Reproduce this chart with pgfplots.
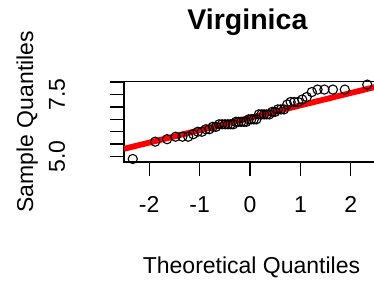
\documentclass[border=0pt]{standalone}
\usepackage{pgfplots}
\pgfplotsset{compat=1.18}
\usepackage{fontspec}
\setmainfont{Liberation Sans}
\definecolor{rred}{RGB}{255,0,0}
\begin{document}
\begin{tikzpicture}
\begin{axis}[
  x=50.4pt, y=24.8pt,
  xmin=-2.5, xmax=2.5, ymin=4.78, ymax=8.02,
  clip=false,
  axis line style={line width=1.3pt, black},
  tick align=outside, tick pos=left,
  major tick length=14pt,
  tick style={line width=1.3pt, black},
  xtick={-2,-1,0,1,2},
  xticklabels={-2,-1,0,1,2},
  ytick={5,5.5,6,6.5,7,7.5,8},
  yticklabels={5.0,,,,,7.5,},
  xticklabel style={font=\fontsize{23}{27}\selectfont, anchor=base, yshift=-36pt},
  yticklabel style={font=\fontsize{23}{27}\selectfont, xshift=-45pt, rotate=90, anchor=base},
  title={\textbf{Virginica}},
  title style={font=\fontsize{28.5}{32}\selectfont, at={(axis description cs:0.5,1)}, anchor=base, yshift=46.6pt, xshift=-2.5pt},
  xlabel={Theoretical Quantiles},
  xlabel style={font=\fontsize{23}{27}\selectfont, at={(axis description cs:0.5,0)}, anchor=base, yshift=-111pt, xshift=1.5pt},
  ylabel={Sample Quantiles},
  ylabel style={font=\fontsize{23}{27}\selectfont, at={(axis description cs:-0.361,0.5)}, anchor=base},
]
\addplot[only marks, mark=o, mark size=4.6pt, mark options={line width=1.1pt, black}] table {
q y
-2.3263 4.9
-1.8808 5.6
-1.6449 5.7
-1.4758 5.8
-1.3408 5.8
-1.2265 5.8
-1.1264 5.9
-1.0364 6.0
-0.9542 6.0
-0.8779 6.1
-0.8064 6.1
-0.7388 6.2
-0.6745 6.2
-0.6128 6.3
-0.5534 6.3
-0.4959 6.3
-0.4399 6.3
-0.3853 6.3
-0.3319 6.3
-0.2793 6.4
-0.2275 6.4
-0.1764 6.4
-0.1257 6.4
-0.0753 6.4
-0.0251 6.5
0.0251 6.5
0.0753 6.5
0.1257 6.5
0.1764 6.7
0.2275 6.7
0.2793 6.7
0.3319 6.7
0.3853 6.7
0.4399 6.8
0.4959 6.8
0.5534 6.9
0.6128 6.9
0.6745 6.9
0.7388 7.1
0.8064 7.2
0.8779 7.2
0.9542 7.2
1.0364 7.3
1.1264 7.4
1.2265 7.6
1.3408 7.7
1.4758 7.7
1.6449 7.7
1.8808 7.7
2.3263 7.9
};
\addplot[rred, line width=5.8pt] coordinates {(-2.5,5.3115) (2.5,7.8135)};
\end{axis}
\pgfresetboundingbox
\path[use as bounding box] (-124pt,-124pt) rectangle (250pt,162pt);
\end{tikzpicture}
\end{document}
